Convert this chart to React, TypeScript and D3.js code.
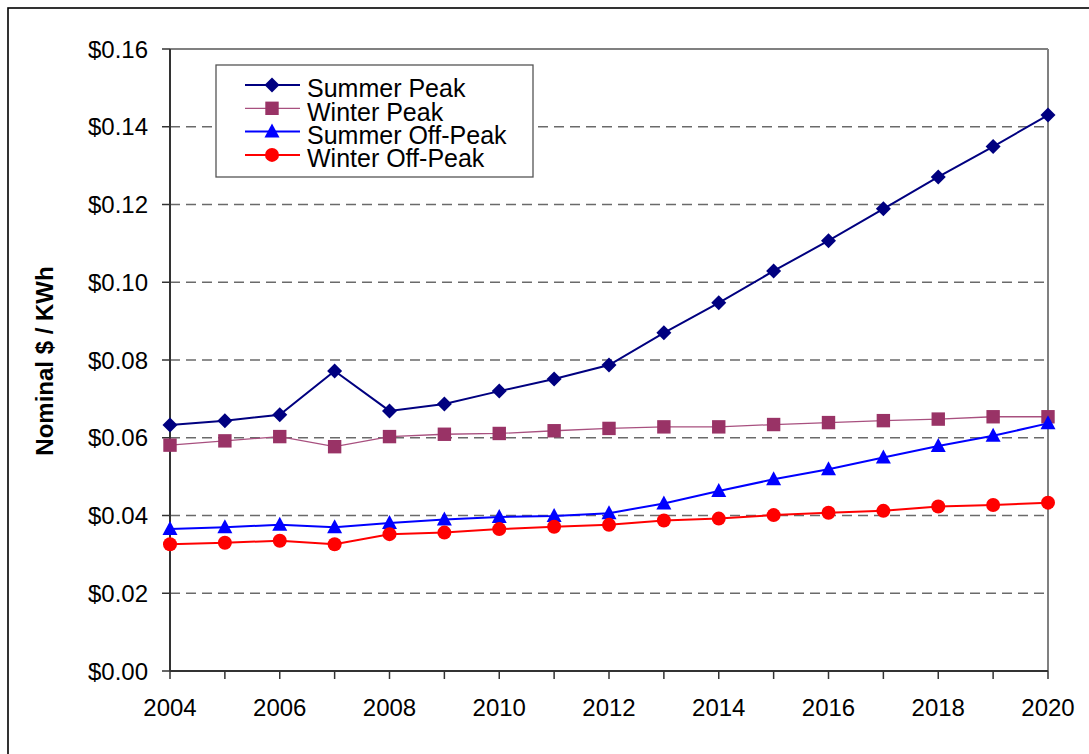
import React from "react";
import * as d3 from "d3";

const years = [2004, 2005, 2006, 2007, 2008, 2009, 2010, 2011, 2012, 2013, 2014, 2015, 2016, 2017, 2018, 2019, 2020];
const summerPeak = [0.0633, 0.0644, 0.0659, 0.0772, 0.0669, 0.0687, 0.072, 0.0751, 0.0787, 0.087, 0.0947, 0.1029, 0.1107, 0.1189, 0.1271, 0.1349, 0.143];
const winterPeak = [0.0581, 0.0592, 0.0603, 0.0577, 0.0603, 0.0609, 0.0611, 0.0618, 0.0624, 0.0628, 0.0628, 0.0634, 0.0639, 0.0644, 0.0648, 0.0654, 0.0654];
const summerOffPeak = [0.0365, 0.037, 0.0376, 0.037, 0.0381, 0.039, 0.0396, 0.0399, 0.0406, 0.0431, 0.0463, 0.0493, 0.0519, 0.0549, 0.0579, 0.0605, 0.0637];
const winterOffPeak = [0.0326, 0.033, 0.0335, 0.0326, 0.0352, 0.0356, 0.0365, 0.0371, 0.0376, 0.0387, 0.0392, 0.0401, 0.0407, 0.0412, 0.0423, 0.0427, 0.0433];
const yTicks = [0, 0.02, 0.04, 0.06, 0.08, 0.1, 0.12, 0.14, 0.16];
const xLabelYears = [2004, 2006, 2008, 2010, 2012, 2014, 2016, 2018, 2020];

const seriesNames = ["Summer Peak", "Winter Peak", "Summer Off-Peak", "Winter Off-Peak"];

export default function App() {
  const left = 170, right = 1048, top = 49, bottom = 671;
  const x = d3.scaleLinear().domain([2004, 2020]).range([left, right]);
  const y = d3.scaleLinear().domain([0, 0.16]).range([bottom, top]);
  const font = "Arial, 'Liberation Sans', sans-serif";

  const series = [
    { name: seriesNames[0], values: summerPeak, line: "#000080", fill: "#000080", width: 2, marker: "diamond" },
    { name: seriesNames[1], values: winterPeak, line: "#a8507f", fill: "#993366", width: 1.3, marker: "square" },
    { name: seriesNames[2], values: summerOffPeak, line: "#0000ff", fill: "#0000ff", width: 2, marker: "triangle" },
    { name: seriesNames[3], values: winterOffPeak, line: "#ff0000", fill: "#ff0000", width: 2, marker: "circle" },
  ];

  const lineGen = d3.line<number>().x((_, i) => x(years[i])).y((v) => y(v));

  const marker = (type: string, cx: number, cy: number, fill: string, key: string) => {
    if (type === "diamond") {
      const s = 7.5;
      return <path key={key} d={`M${cx},${cy - s}L${cx + s},${cy}L${cx},${cy + s}L${cx - s},${cy}Z`} fill={fill} />;
    }
    if (type === "square") {
      return <rect key={key} x={cx - 6.7} y={cy - 6.7} width={13.4} height={13.4} fill={fill} />;
    }
    if (type === "triangle") {
      return <path key={key} d={`M${cx},${cy - 8}L${cx + 7.5},${cy + 6}L${cx - 7.5},${cy + 6}Z`} fill={fill} />;
    }
    return <circle key={key} cx={cx} cy={cy} r={7} fill={fill} />;
  };

  return (
    <svg width={1089} height={754} style={{ position: "absolute", left: 0, top: 0, background: "#fff" }}>
      <rect x={0} y={0} width={1089} height={754} fill="#fff" />
      <rect x={8} y={8} width={1200} height={900} fill="none" stroke="#000" strokeWidth={1.6} />
      {yTicks.filter((t) => t > 0).map((t) => (
        <line key={"g" + t} x1={left} x2={right} y1={y(t)} y2={y(t)} stroke="#6a6a6a" strokeWidth={1.3} strokeDasharray="10,6" />
      ))}
      <line x1={left} x2={right} y1={top} y2={top} stroke="#808080" strokeWidth={2} />
      <line x1={right} x2={right} y1={top} y2={bottom} stroke="#808080" strokeWidth={2} />
      <line x1={left} x2={left} y1={top} y2={bottom} stroke="#333" strokeWidth={2} />
      <line x1={left} x2={right} y1={bottom} y2={bottom} stroke="#333" strokeWidth={2} />
      {yTicks.map((t) => (
        <g key={"y" + t}>
          <line x1={left - 8} x2={left} y1={y(t)} y2={y(t)} stroke="#333" strokeWidth={1.5} />
          <text x={148} y={y(t)} dy="0.36em" textAnchor="end" fontFamily={font} fontSize={24} fill="#000">
            {"$" + t.toFixed(2)}
          </text>
        </g>
      ))}
      {years.map((yr) => (
        <line key={"x" + yr} x1={x(yr)} x2={x(yr)} y1={bottom} y2={bottom + 8} stroke="#333" strokeWidth={1.5} />
      ))}
      {xLabelYears.map((yr) => (
        <text key={"xl" + yr} x={x(yr)} y={716} textAnchor="middle" fontFamily={font} fontSize={24} fill="#000">
          {yr}
        </text>
      ))}
      <text transform="translate(53,361) rotate(-90)" textAnchor="middle" fontFamily={font} fontSize={24} fontWeight="bold" fill="#000">
        Nominal $ / KWh
      </text>
      {series.map((s) => (
        <g key={s.name}>
          <path d={lineGen(s.values) || ""} fill="none" stroke={s.line} strokeWidth={s.width} />
          {s.values.map((v, i) => marker(s.marker, x(years[i]), y(v), s.fill, s.name + i))}
        </g>
      ))}
      <rect x={216} y={65} width={317} height={112} fill="#fff" stroke="#555" strokeWidth={1.3} />
      {series.map((s, i) => {
        const cy = 85 + i * 23.3;
        return (
          <g key={"lg" + s.name}>
            <line x1={245} x2={300} y1={cy} y2={cy} stroke={s.line} strokeWidth={s.width} />
            {marker(s.marker, 272, cy, s.fill, "lm" + i)}
            <text x={307} y={cy + 4} dy="0.33em" fontFamily={font} fontSize={25} fill="#000">
              {s.name}
            </text>
          </g>
        );
      })}
    </svg>
  );
}
